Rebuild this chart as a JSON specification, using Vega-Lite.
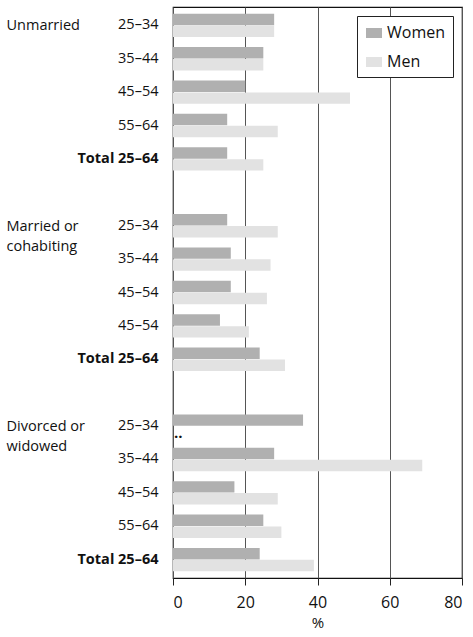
{
  "$schema": "https://vega.github.io/schema/vega-lite/v6.json",
  "width": 289,
  "height": 571,
  "autosize": {"type": "none"},
  "padding": {"left": 173, "top": 7, "right": 11, "bottom": 59},
  "background": "white",
  "config": {
    "font": "Open Sans",
    "view": {"stroke": "#111", "strokeWidth": 1.2}
  },
  "data": {
    "values": [
      {"row": "U1|25–34", "sex": "Women", "value": 28},
      {"row": "U1|25–34", "sex": "Men", "value": 28},
      {"row": "U2|35–44", "sex": "Women", "value": 25},
      {"row": "U2|35–44", "sex": "Men", "value": 25},
      {"row": "U3|45–54", "sex": "Women", "value": 20},
      {"row": "U3|45–54", "sex": "Men", "value": 49},
      {"row": "U4|55–64", "sex": "Women", "value": 15},
      {"row": "U4|55–64", "sex": "Men", "value": 29},
      {"row": "U5|Total 25–64", "sex": "Women", "value": 15},
      {"row": "U5|Total 25–64", "sex": "Men", "value": 25},
      {"row": "M1|25–34", "sex": "Women", "value": 15},
      {"row": "M1|25–34", "sex": "Men", "value": 29},
      {"row": "M2|35–44", "sex": "Women", "value": 16},
      {"row": "M2|35–44", "sex": "Men", "value": 27},
      {"row": "M3|45–54", "sex": "Women", "value": 16},
      {"row": "M3|45–54", "sex": "Men", "value": 26},
      {"row": "M4|45–54", "sex": "Women", "value": 13},
      {"row": "M4|45–54", "sex": "Men", "value": 21},
      {"row": "M5|Total 25–64", "sex": "Women", "value": 24},
      {"row": "M5|Total 25–64", "sex": "Men", "value": 31},
      {"row": "D1|25–34", "sex": "Women", "value": 36},
      {"row": "D1|25–34", "sex": "Men", "value": null, "note": ".."},
      {"row": "D2|35–44", "sex": "Women", "value": 28},
      {"row": "D2|35–44", "sex": "Men", "value": 69},
      {"row": "D3|45–54", "sex": "Women", "value": 17},
      {"row": "D3|45–54", "sex": "Men", "value": 29},
      {"row": "D4|55–64", "sex": "Women", "value": 25},
      {"row": "D4|55–64", "sex": "Men", "value": 30},
      {"row": "D5|Total 25–64", "sex": "Women", "value": 24},
      {"row": "D5|Total 25–64", "sex": "Men", "value": 39}
    ]
  },
  "layer": [
    {
      "mark": {"type": "bar"},
      "encoding": {
        "y": {
          "field": "row",
          "type": "nominal",
          "sort": null,
          "scale": {
            "domain": ["U1|25–34", "U2|35–44", "U3|45–54", "U4|55–64", "U5|Total 25–64", "gap1",
                       "M1|25–34", "M2|35–44", "M3|45–54", "M4|45–54", "M5|Total 25–64", "gap2",
                       "D1|25–34", "D2|35–44", "D3|45–54", "D4|55–64", "D5|Total 25–64"],
            "paddingInner": 0.3,
            "paddingOuter": 0.2
          },
          "axis": {
            "orient": "left",
            "title": null,
            "ticks": false,
            "tickSize": 0,
            "domain": false,
            "labelPadding": 15,
            "labelFontSize": 14.5,
            "labelColor": "#111",
            "labelLimit": 300,
            "labelOverlap": false,
            "labelBound": false,
            "labelFontWeight": {"condition": {"test": "indexof(datum.value, 'Total') >= 0", "value": "bold"}, "value": "normal"},
            "labelExpr": "indexof(datum.value, '|') > 0 ? split(datum.value, '|')[1] : ''"
          }
        },
        "yOffset": {
          "field": "sex",
          "type": "nominal",
          "scale": {"domain": ["Women", "Men"], "paddingInner": 0.04}
        },
        "x": {
          "field": "value",
          "type": "quantitative",
          "scale": {"domain": [0, 80], "nice": false},
          "axis": {
            "values": [0, 20, 40, 60, 80],
            "title": "%",
            "titleFontSize": 15,
            "titleFontWeight": "normal",
            "titleColor": "#111",
            "titlePadding": 5,
            "labelFontSize": 16,
            "labelColor": "#111",
            "labelPadding": 9,
            "tickSize": 7,
            "tickColor": "#222",
            "domain": false,
            "grid": true,
            "gridColor": "#555",
            "gridWidth": 1
          }
        },
        "color": {
          "field": "sex",
          "type": "nominal",
          "scale": {"domain": ["Women", "Men"], "range": ["#b0b0b0", "#e2e2e2"]},
          "legend": {
            "title": null,
            "orient": "top-right",
            "offset": 9,
            "strokeColor": "#222",
            "fillColor": "white",
            "padding": 7,
            "symbolType": "M-0.8,-0.5H0.8V0.5H-0.8Z",
            "symbolSize": 400,
            "symbolStrokeWidth": 0,
            "labelFontSize": 16,
            "labelColor": "#111",
            "labelOffset": 3,
            "rowPadding": 11
          }
        }
      }
    },
    {
      "transform": [{"filter": "datum.note != null"}],
      "mark": {"type": "text", "align": "left", "baseline": "middle", "dx": 1, "dy": 1, "fontSize": 15, "fontWeight": "bold", "color": "#111"},
      "encoding": {
        "y": {
          "field": "row",
          "type": "nominal",
          "sort": null,
          "axis": {
            "orient": "left",
            "title": null,
            "ticks": false,
            "tickSize": 0,
            "domain": false,
            "labelAlign": "left",
            "labelBaseline": "alphabetic",
            "labelOffset": 5,
            "labelPadding": 167,
            "labelFontSize": 14.5,
            "labelLineHeight": 20,
            "labelColor": "#111",
            "labelLimit": 300,
            "labelOverlap": false,
            "labelBound": false,
            "labelExpr": "substring(datum.value, 0, 2) == 'U1' ? 'Unmarried' : substring(datum.value, 0, 2) == 'M1' ? ['Married or', 'cohabiting'] : substring(datum.value, 0, 2) == 'D1' ? ['Divorced or', 'widowed'] : ''"
          }
        },
        "yOffset": {"field": "sex", "type": "nominal"},
        "x": {"datum": 0, "type": "quantitative"},
        "text": {"field": "note"}
      }
    }
  ],
  "resolve": {"axis": {"y": "independent"}}
}
